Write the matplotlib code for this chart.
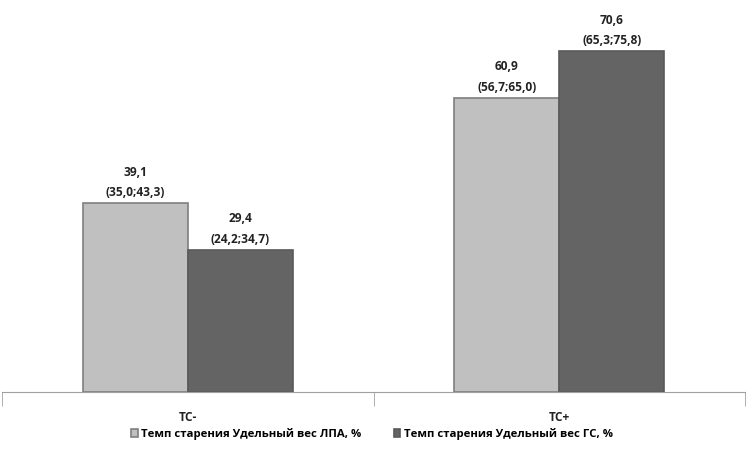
import matplotlib.pyplot as plt
import numpy as np

plt.rcParams['font.family'] = ['Open Sans', 'DejaVu Sans']

categories = ["ТС-", "ТС+"]
series_names = ["Темп старения Удельный вес ЛПА, %", "Темп старения Удельный вес ГС, %"]
lpa = [39.1, 60.9]
gs = [29.4, 70.6]
lpa_ci = ["(35,0;43,3)", "(56,7;65,0)"]
gs_ci = ["(24,2;34,7)", "(65,3;75,8)"]

fig = plt.figure(figsize=(7.49, 4.49), dpi=100)
ax = fig.add_axes([2 / 749, 57 / 449, 743 / 749, 392 / 449])

x = np.arange(len(categories))
w = 0.283
b1 = ax.bar(x - w / 2, lpa, w, color="#c0c0c0", edgecolor="#7f7f7f", linewidth=1.2, label=series_names[0])
b2 = ax.bar(x + w / 2, gs, w, color="#646464", edgecolor="#5a5a5a", linewidth=1.2, label=series_names[1])

for bars, vals, cis in [(b1, lpa, lpa_ci), (b2, gs, gs_ci)]:
    for rect, v, ci in zip(bars, vals, cis):
        ax.annotate("%s\n%s" % (("%.1f" % v).replace(".", ","), ci),
                    (rect.get_x() + rect.get_width() / 2, v),
                    xytext=(0, 3), textcoords="offset points",
                    ha="center", va="bottom", fontsize=8.6, fontweight="bold",
                    color="#222222", linespacing=1.75)

ax.set_xlim(-0.5, 1.5)
ax.set_ylim(0, 81.2)
for s in ["top", "right", "left"]:
    ax.spines[s].set_visible(False)
ax.spines["bottom"].set_color("#a0a0a0")
ax.set_yticks([])
ax.set_xticks(x)
ax.set_xticklabels(categories, fontsize=8.6, fontweight="bold", color="#222222")
ax.tick_params(axis="x", which="major", length=0, pad=14)
ax.set_xticks([-0.5, 0.5, 1.5], minor=True)
ax.tick_params(axis="x", which="minor", length=10, color="#a0a0a0")

fig.legend(handles=[b1, b2], loc="center", bbox_to_anchor=(372 / 749, 1 - 434 / 449),
           ncol=2, frameon=False, prop={"weight": "bold", "size": 8.2},
           handlelength=0.6, handleheight=0.6, handletextpad=0.3, columnspacing=2.8)

fig.savefig("out.png", dpi=100)
